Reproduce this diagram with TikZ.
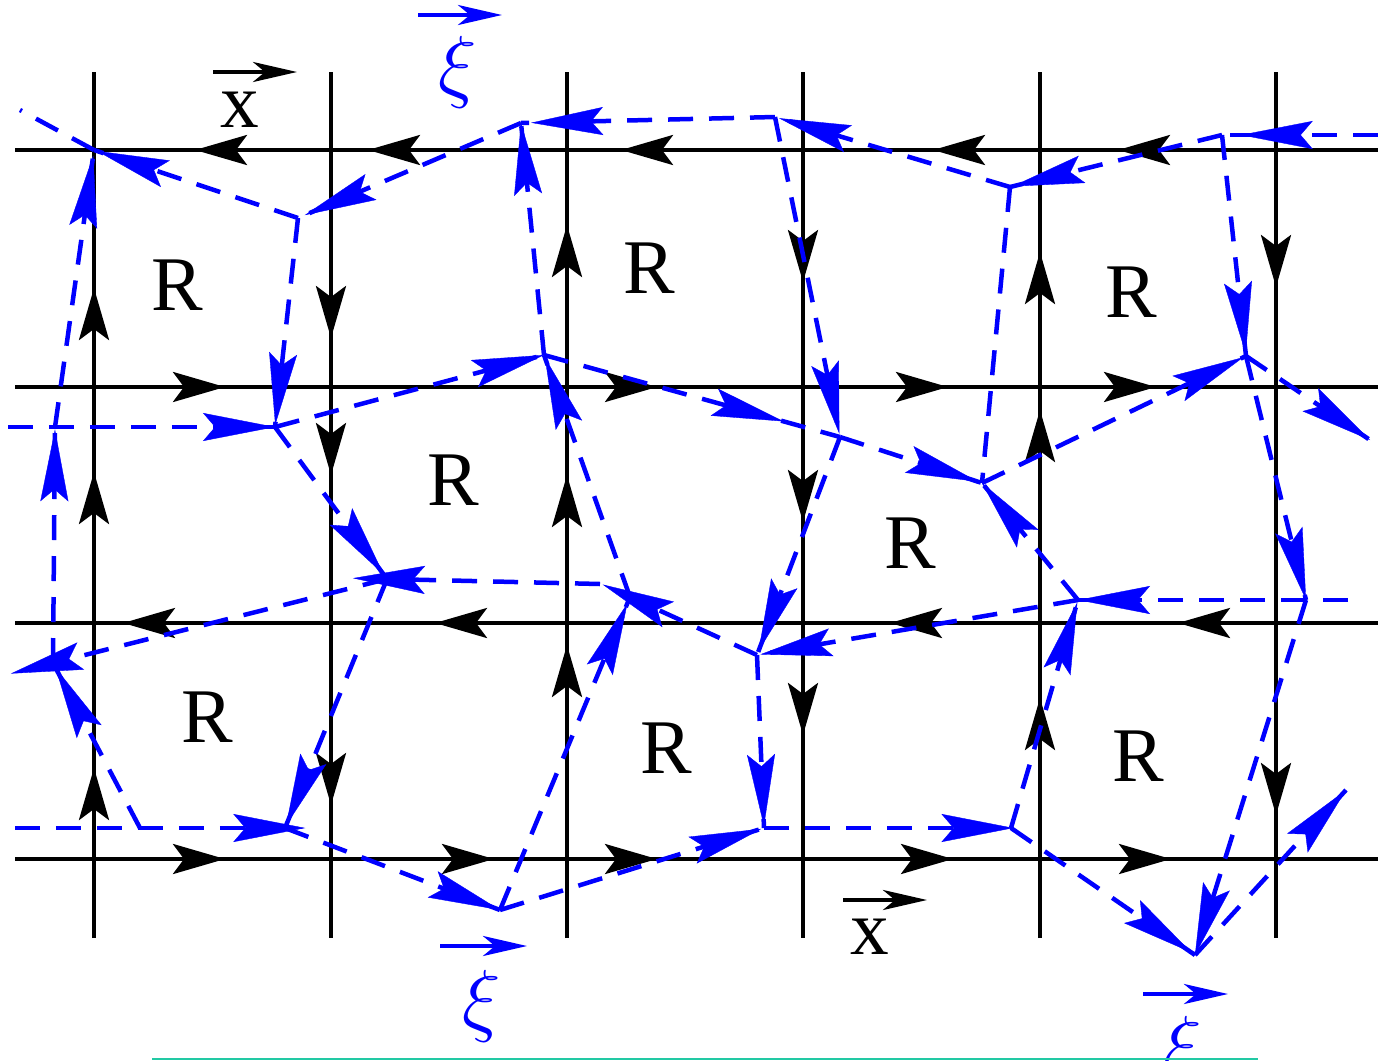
\RequirePackage{fix-cm}
\documentclass[tikz,border=0pt]{standalone}
\usepackage{fontspec}
\setmainfont{Liberation Serif}
\usetikzlibrary{arrows.meta,calc,decorations.markings}
\definecolor{tealline}{HTML}{22C9A4}
\tikzset{
  gridline/.style={draw=black, line width=0.4mm},
  flow/.style={postaction={decorate, decoration={markings,
      mark=at position #1 with {\arrow{Stealth[length=5.2mm, width=3mm, inset=1.1mm]}}}}},
  bluedge/.style={draw=blue, line width=0.45mm, dash pattern=on 2.5mm off 1.6mm},
  bluetip/.style={draw=blue, fill=blue, line width=0.1pt, solid,
      -{Stealth[length=7.2mm, width=2.8mm, inset=1.2mm]}},
  rlabel/.style={font=\fontsize{22}{22}\selectfont, inner sep=0pt},
  xilabel/.style={font=\fontsize{23}{23}\selectfont, text=blue, inner sep=0pt},
  vecarrow/.style={line width=0.4mm, -{Stealth[length=4.4mm, width=2mm, inset=1.2mm]}},
}
\newcommand{\headat}[3]{\draw[bluetip] ($(#1)!#3-0.02!(#2)$) -- ($(#1)!#3!(#2)$);}

\begin{document}
\begin{tikzpicture}[x=0.1mm, y=-0.1mm]
  \useasboundingbox (0,0) rectangle (1378,1061);
  \clip (0,0) rectangle (1378,1061);

  \coordinate (h1w) at (15,150);  \coordinate (h1e) at (1378,150);
  \coordinate (h2w) at (15,387);  \coordinate (h2e) at (1378,387);
  \coordinate (h3w) at (15,623);  \coordinate (h3e) at (1378,623);
  \coordinate (h4w) at (15,859);  \coordinate (h4e) at (1378,859);
  \coordinate (v1n) at (94,72);   \coordinate (v1s) at (94,938);
  \coordinate (v2n) at (331,72);  \coordinate (v2s) at (331,938);
  \coordinate (v3n) at (567,72);  \coordinate (v3s) at (567,938);
  \coordinate (v4n) at (803,72);  \coordinate (v4s) at (803,938);
  \coordinate (v5n) at (1040,72); \coordinate (v5s) at (1040,938);
  \coordinate (v6n) at (1276,72); \coordinate (v6s) at (1276,938);

  \draw[gridline, flow=2.60cm, flow=4.45cm, flow=7.57cm, flow=10.10cm, flow=11.83cm] (h1e) -- (h1w);
  \draw[gridline, flow=2.10cm, flow=6.42cm, flow=9.33cm, flow=11.41cm] (h2w) -- (h2e);
  \draw[gridline, flow=2.00cm, flow=4.88cm, flow=9.43cm, flow=12.55cm] (h3e) -- (h3w);
  \draw[gridline, flow=2.10cm, flow=4.79cm, flow=6.42cm, flow=9.38cm, flow=11.56cm] (h4w) -- (h4e);
  \draw[gridline, flow=1.70cm, flow=4.66cm, flow=6.50cm] (v1s) -- (v1n);
  \draw[gridline, flow=2.66cm, flow=4.03cm, flow=7.33cm] (v2n) -- (v2s);
  \draw[gridline, flow=2.93cm, flow=4.63cm, flow=7.13cm] (v3s) -- (v3n);
  \draw[gridline, flow=2.10cm, flow=4.50cm, flow=6.63cm] (v4n) -- (v4s);
  \draw[gridline, flow=2.40cm, flow=5.28cm, flow=6.86cm] (v5s) -- (v5n);
  \draw[gridline, flow=2.15cm, flow=7.43cm] (v6n) -- (v6s);

  \coordinate (c0) at (94,150);
  \coordinate (t1) at (298,218);
  \coordinate (t2) at (521,123);
  \coordinate (t3) at (775,117);
  \coordinate (t4) at (1010,187);
  \coordinate (t5) at (1222,135);
  \coordinate (m0) at (55,427);
  \coordinate (m1) at (275,427);
  \coordinate (m2) at (544,355);
  \coordinate (m3) at (840,437);
  \coordinate (m4) at (982,483);
  \coordinate (m5) at (1246,356);
  \coordinate (n0) at (53,663);
  \coordinate (n1) at (387,579);
  \coordinate (n2) at (630,597);
  \coordinate (n2w) at (600,584);
  \coordinate (n3) at (757,655);
  \coordinate (n4) at (1078,600);
  \coordinate (n5) at (1306,600);
  \coordinate (b0) at (140,828);
  \coordinate (b1) at (285,828);
  \coordinate (b2) at (500,910);
  \coordinate (b3) at (764,828);
  \coordinate (b4) at (1011,828);
  \coordinate (b5) at (1195,955);
  \coordinate (e1) at (20,110);
  \coordinate (e2) at (1378,135);
  \coordinate (e3) at (8,427);
  \coordinate (e4) at (1370,440);
  \coordinate (e5) at (1348,600);
  \coordinate (e6) at (15,828);
  \coordinate (e7) at (1346,790);

  \draw[bluedge] (c0) -- (e1);
  \draw[bluedge] (t1) -- (c0);
  \draw[bluedge] (m0) -- (c0);
  \draw[bluedge] (t2) -- (t1);
  \draw[bluedge] (t3) -- (t2);
  \draw[bluedge] (m2) -- (t2);
  \draw[bluedge] (t4) -- (t3);
  \draw[bluedge] (t3) -- (m3);
  \draw[bluedge] (t5) -- (t4);
  \draw[bluedge] (t4) -- (m4);
  \draw[bluedge] (e2) -- (t5);
  \draw[bluedge] (t5) -- (m5);
  \draw[bluedge] (e3) -- (m0) -- (m1);
  \draw[bluedge] (n0) -- (m0);
  \draw[bluedge] (m1) -- (m2);
  \draw[bluedge] (m1) -- (n1);
  \draw[bluedge] (t1) -- (m1);
  \draw[bluedge] (n2) -- (m2);
  \draw[bluedge] (m2) -- (m3);
  \draw[bluedge] (m3) -- (m4);
  \draw[bluedge] (m3) -- (n3);
  \draw[bluedge] (n4) -- (m4);
  \draw[bluedge] (m4) -- (m5);
  \draw[bluedge] (m5) -- (e4);
  \draw[bluedge] (m5) -- (n5);
  \draw[bluedge] (e5) -- (n5);
  \draw[bluedge] (n5) -- (n4);
  \draw[bluedge] (n5) -- (b5);
  \draw[bluedge] (n4) -- (n3);
  \draw[bluedge] (b4) -- (n4);
  \draw[bluedge] (n3) -- (n2);
  \draw[bluedge] (n3) -- (b3);
  \draw[bluedge] (b2) -- (n2);
  \draw[bluedge] (n2w) -- (n1);
  \draw[bluedge] (n1) -- (n0);
  \draw[bluedge] (n1) -- (b1);
  \draw[bluedge] (b0) -- (n0);
  \draw[bluedge] (e6) -- (b0) -- (b1);
  \draw[bluedge] (b1) -- (b2);
  \draw[bluedge] (b2) -- (b3);
  \draw[bluedge] (b3) -- (b4);
  \draw[bluedge] (b4) -- (b5);
  \draw[bluedge] (b5) -- (e7);

  \headat{t1}{c0}{0.985}
  \headat{m0}{c0}{0.98}
  \headat{t2}{t1}{0.97}
  \headat{t3}{t2}{0.96}
  \headat{m2}{t2}{1}
  \headat{t4}{t3}{0.983}
  \headat{t3}{m3}{0.99}
  \headat{t5}{t4}{0.99}
  \headat{e2}{t5}{0.88}
  \headat{t5}{m5}{0.99}
  \headat{m0}{m1}{1}
  \headat{n0}{m0}{0.99}
  \headat{m1}{m2}{1}
  \headat{m1}{n1}{0.97}
  \headat{t1}{m1}{0.99}
  \headat{n2}{m2}{0.99}
  \headat{m2}{m3}{0.81}
  \headat{m3}{m4}{0.97}
  \headat{m3}{n3}{0.98}
  \headat{n4}{m4}{1}
  \headat{m4}{m5}{0.99}
  \headat{m5}{e4}{1}
  \headat{m5}{n5}{1}
  \headat{n5}{n4}{1}
  \headat{n5}{b5}{1}
  \headat{n4}{n3}{0.99}
  \headat{b4}{n4}{0.99}
  \headat{n3}{n2}{1.215}
  \headat{n3}{b3}{0.99}
  \headat{b2}{n2}{0.98}
  \headat{n2w}{n1}{1.16}
  \headat{n1}{n0}{1.126}
  \headat{n1}{b1}{0.99}
  \headat{b0}{n0}{0.97}
  \headat{b0}{b1}{1.14}
  \headat{b1}{b2}{1}
  \headat{b2}{b3}{0.99}
  \headat{b3}{b4}{1.01}
  \headat{b4}{b5}{0.98}
  \headat{b5}{e7}{1}

  \node[rlabel] (r1) at (177,285) {R};
  \node[rlabel] (r2) at (649,268) {R};
  \node[rlabel] (r3) at (1131,292) {R};
  \node[rlabel] (r4) at (453,480) {R};
  \node[rlabel] (r5) at (910,543) {R};
  \node[rlabel] (r6) at (207,717) {R};
  \node[rlabel] (r7) at (666,748) {R};
  \node[rlabel] (r8) at (1138,756) {R};

  \node[rlabel] (xtop) at (240,110) {x};
  \draw[vecarrow] ($(xtop)+(-27,-38)$) -- ($(xtop)+(57,-38)$);
  \node[rlabel] (xbot) at (870,937) {x};
  \draw[vecarrow] ($(xbot)+(-27,-37)$) -- ($(xbot)+(57,-37)$);

  \node[xilabel] (xitop) at (458,72) {$\xi$};
  \draw[vecarrow, blue] ($(xitop)+(-40,-57)$) -- ($(xitop)+(44,-57)$);
  \node[xilabel] (xibot) at (482,1006) {$\xi$};
  \draw[vecarrow, blue] ($(xibot)+(-42,-60)$) -- ($(xibot)+(45,-60)$);
  \node[xilabel] (xicor) at (1183,1052) {$\xi$};
  \draw[vecarrow, blue] ($(xicor)+(-40,-58)$) -- ($(xicor)+(45,-58)$);

  \draw[tealline, line width=0.2mm] (152,1059) -- (1258,1059);
\end{tikzpicture}
\end{document}
